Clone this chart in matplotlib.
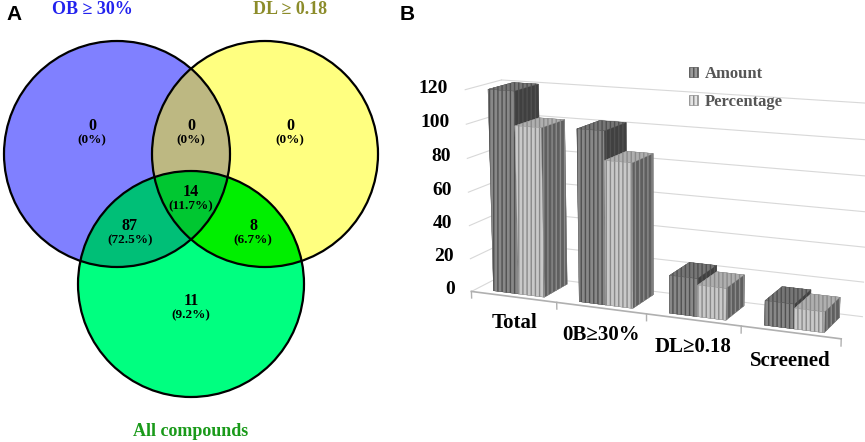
import numpy as np
import matplotlib
matplotlib.use("Agg")
import matplotlib.pyplot as plt
from matplotlib.patches import Circle, Patch
from mpl_toolkits.mplot3d import Axes3D, proj3d  # noqa

# ---------------- data ----------------
set_names = ["OB \u2265 30%", "DL \u2265 0.18", "All compounds"]
# Venn regions: (OB only, OB&DL only, DL only, OB&DL&All, OB&All, DL&All, All only)
region_keys = ["A", "AB", "B", "ABC", "AC", "BC", "C"]
region_counts = [0, 0, 0, 14, 87, 8, 11]
region_pcts = ["0%", "0%", "0%", "11.7%", "72.5%", "6.7%", "9.2%"]

categories = ["Total", "0B\u226530%", "DL\u22650.18", "Screened"]
amount = [120, 101, 22, 14]
percentage = [100, 84.2, 18.3, 11.7]
series_names = ["Amount", "Percentage"]
zticks = [0, 20, 40, 60, 80, 100, 120]

SERIF = ["Liberation Serif", "DejaVu Serif"]

fig = plt.figure(figsize=(8.65, 4.42), dpi=100)

# ---------------- Panel A : Venn ----------------
W, H = 432, 442
axa = fig.add_axes([0, 0, W / 865, 1])
axa.set_xlim(0, W)
axa.set_ylim(H, 0)
axa.axis("off")

centers = {"A": (117, 154), "B": (265, 154), "C": (191, 284)}
R = 113

yy, xx = np.mgrid[0:H:0.5, 0:W:0.5]
inA = (xx - centers["A"][0]) ** 2 + (yy - centers["A"][1]) ** 2 <= R ** 2
inB = (xx - centers["B"][0]) ** 2 + (yy - centers["B"][1]) ** 2 <= R ** 2
inC = (xx - centers["C"][0]) ** 2 + (yy - centers["C"][1]) ** 2 <= R ** 2

region_colors = {
    "A": "#8080FF", "B": "#FFFF80", "C": "#00FF80",
    "AB": "#BEB982", "AC": "#00BF78", "BC": "#00F000", "ABC": "#00C832",
}
img = np.ones(xx.shape + (4,))
img[..., 3] = 0
def rgba(h):
    return np.array(matplotlib.colors.to_rgba(h))
masks = {
    "A": inA & ~inB & ~inC, "B": inB & ~inA & ~inC, "C": inC & ~inA & ~inB,
    "AB": inA & inB & ~inC, "AC": inA & inC & ~inB, "BC": inB & inC & ~inA,
    "ABC": inA & inB & inC,
}
for k, m in masks.items():
    img[m] = rgba(region_colors[k])
axa.imshow(img, extent=(0, W, H, 0), origin="upper", interpolation="bilinear", zorder=1)
for k in ["A", "B", "C"]:
    axa.add_patch(Circle(centers[k], R, fill=False, ec="black", lw=1.6, zorder=3))

label_pos = {
    "A": (92, 132), "AB": (191, 132), "B": (290, 132), "ABC": (191, 198),
    "AC": (130, 232), "BC": (253, 232), "C": (191, 307),
}
for k, c, p in zip(region_keys, region_counts, region_pcts):
    x, y = label_pos[k]
    axa.text(x, y - 6, str(c), ha="center", va="center", fontsize=11.5,
             fontweight="bold", family=SERIF, zorder=4)
    axa.text(x, y + 8, "(" + p + ")", ha="center", va="center", fontsize=9.5,
             fontweight="bold", family=SERIF, zorder=4)

axa.text(92, 9, set_names[0], ha="center", va="center", fontsize=13,
         fontweight="bold", family=SERIF, color="#2222EE")
axa.text(290, 9, set_names[1], ha="center", va="center", fontsize=13,
         fontweight="bold", family=SERIF, color="#8C8C2A")
axa.text(191, 431, set_names[2], ha="center", va="center", fontsize=13,
         fontweight="bold", family=SERIF, color="#1A9A1A")
axa.text(6, 14, "A", ha="left", va="center", fontsize=15, fontweight="bold",
         family=["Liberation Sans", "DejaVu Sans"])
fig.text(400 / 865, 1 - 14 / 442, "B", ha="left", va="center", fontsize=15,
         fontweight="bold", family=["Liberation Sans", "DejaVu Sans"])

# ---------------- Panel B : 3D bars ----------------
axb = fig.add_axes([0.50, 0.010, 0.515, 1.04], projection="3d",
                   computed_zorder=False)
axb.set_proj_type("persp", focal_length=0.6)
axb.view_init(elev=13, azim=-67)
n = len(categories)
axb.set_xlim(0, n)
axb.set_ylim(0, 1)
axb.set_zlim(0, 120)
axb.set_box_aspect((4, 0.75, 2.13))

bar_w = 0.3
styles = [dict(color="#9a9a9a", ec="#505050"), dict(color="#e4e4e4", ec="#8a8a8a")]
for i in range(n):
    for s, vals in enumerate([amount, percentage]):
        axb.bar3d(i + 0.2 + s * bar_w, 0.15, 0, bar_w, 0.7, vals[i],
                  color=styles[s]["color"], edgecolor=styles[s]["ec"],
                  linewidth=0.2, hatch="||||", shade=True,
                  zorder=5 + 2 * i + s)

axb.set_axis_off()
grid_c = "#d8d8d8"
axis_c = "#b0b0b0"
M = axb.get_proj()
def label2d(x, y, z, s, **kw):
    x2, y2, _ = proj3d.proj_transform(x, y, z, M)
    axb.text2D(x2, y2, s, transform=axb.transData, **kw)

for z in zticks:
    axb.plot([0, n], [1, 1], [z, z], color=grid_c, lw=0.8, zorder=1)
    axb.plot([0, 0], [0, 1], [z, z], color=grid_c, lw=0.8, zorder=1)
    label2d(-0.2, 0, z, str(z), ha="right", va="center", fontsize=14,
            fontweight="bold", family=SERIF, zorder=20)

# floor front edge with category-boundary ticks
axb.plot([0, n], [0, 0], [0, 0], color=axis_c, lw=1.2, zorder=2)
for b in range(n + 1):
    axb.plot([b, b], [0, 0], [0, -4], color=axis_c, lw=1.0, zorder=2)

for i, c in enumerate(categories):
    label2d(i + 0.5, 0, -16, c, ha="center", va="center", fontsize=15,
            fontweight="bold", family=SERIF, zorder=20)

handles = [Patch(facecolor=styles[s]["color"], edgecolor=styles[s]["ec"],
                 hatch="||||", lw=0.5) for s in range(2)]
leg = fig.legend(handles, series_names, loc="upper left",
                 bbox_to_anchor=(674 / 865, 1 - 51 / 442), frameon=False,
                 handlelength=0.55, handleheight=0.55, handletextpad=0.4,
                 labelspacing=0.7, prop=dict(family=SERIF, weight="bold", size=12))
for t in leg.get_texts():
    t.set_color("#555555")

fig.savefig("out.png", dpi=100)
